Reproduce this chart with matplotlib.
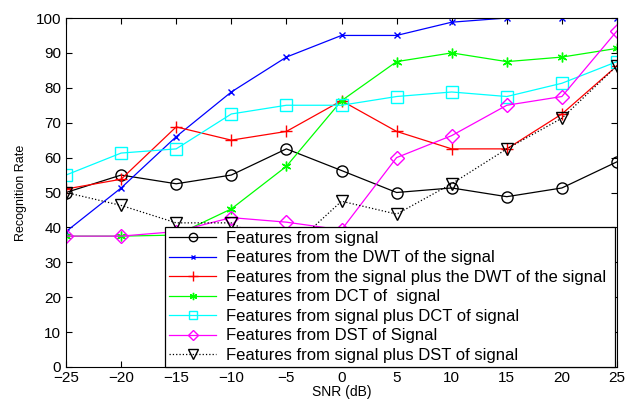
import matplotlib
matplotlib.use("Agg")
import matplotlib.pyplot as plt

plt.rcParams['font.family'] = ['Liberation Sans', 'DejaVu Sans']

snr = [-25, -20, -15, -10, -5, 0, 5, 10, 15, 20, 25]
sig = [50, 55, 52.5, 55, 62.5, 56.3, 50, 51.3, 48.8, 51.3, 58.8]
dwt = [38.8, 51.3, 66, 78.8, 88.8, 95, 95, 98.8, 100, 100, 100]
sig_dwt = [51, 53.8, 68.8, 65, 67.5, 76.3, 67.5, 62.5, 62.5, 72.5, 86.3]
dct = [37.5, 37.5, 37.8, 45.3, 57.5, 76.3, 87.5, 90, 87.5, 88.8, 91.3]
sig_dct = [55, 61.3, 62.5, 72.5, 75, 75, 77.5, 78.8, 77.5, 81.3, 87.5]
dst = [37.5, 37.5, 38.8, 42.8, 41.5, 39.3, 60, 66.3, 75, 77.5, 96.3]
sig_dst = [50, 46.3, 41.3, 41.3, 33, 47.5, 43.8, 52.5, 62.5, 71.3, 86.3]

labels = ["Features from signal",
          "Features from the DWT of the signal",
          "Features from the signal plus the DWT of the signal",
          "Features from DCT of  signal",
          "Features from signal plus DCT of signal",
          "Features from DST of Signal",
          "Features from signal plus DST of signal"]

fig = plt.figure(figsize=(6.27, 4.01), dpi=100)
ax = fig.add_axes([66/627, 34/401, 551/627, 349/401])

lw = 0.9
ax.plot(snr, sig, color='k', marker='o', ms=8, mfc='none', lw=lw, label=labels[0])
ax.plot(snr, dwt, color='b', marker='x', ms=4.5, lw=lw, label=labels[1])
ax.plot(snr, sig_dwt, color='r', marker='+', ms=9, lw=lw, label=labels[2])
ax.plot(snr, dct, color='#00ff00', marker=(6, 2, 0), ms=7, lw=lw, label=labels[3])
ax.plot(snr, sig_dct, color='#00ffff', marker='s', ms=8, mfc='none', lw=lw, label=labels[4])
ax.plot(snr, dst, color='#ff00ff', marker='D', ms=7, mfc='none', lw=lw, label=labels[5])
ax.plot(snr, sig_dst, color='k', marker='v', ms=9, mfc='none', lw=lw, ls=':', label=labels[6])

ax.set_xlim(-25, 25)
ax.set_ylim(0, 100)
ax.set_xticks(snr)
ax.set_yticks(range(0, 101, 10))
ax.tick_params(direction='in', top=True, right=True, labelsize=11, length=4)
ax.tick_params(axis='x', pad=3)
ax.set_xlabel("SNR (dB)", fontsize=10, labelpad=0)
ax.set_ylabel("Recognition Rate", fontsize=9, labelpad=6)

leg = ax.legend(loc='lower left', bbox_to_anchor=((165-66)/551, 0.0, (615-165)/551, 0.395),
                mode='expand', fontsize=12, handlelength=2.8, frameon=True,
                fancybox=False, borderaxespad=0, labelspacing=0.27,
                borderpad=0.25, handletextpad=0.6, markerscale=0.75)
leg.get_frame().set_edgecolor('k')
leg.get_frame().set_linewidth(0.9)
leg.get_frame().set_alpha(1)

fig.savefig("out.png", dpi=100)
